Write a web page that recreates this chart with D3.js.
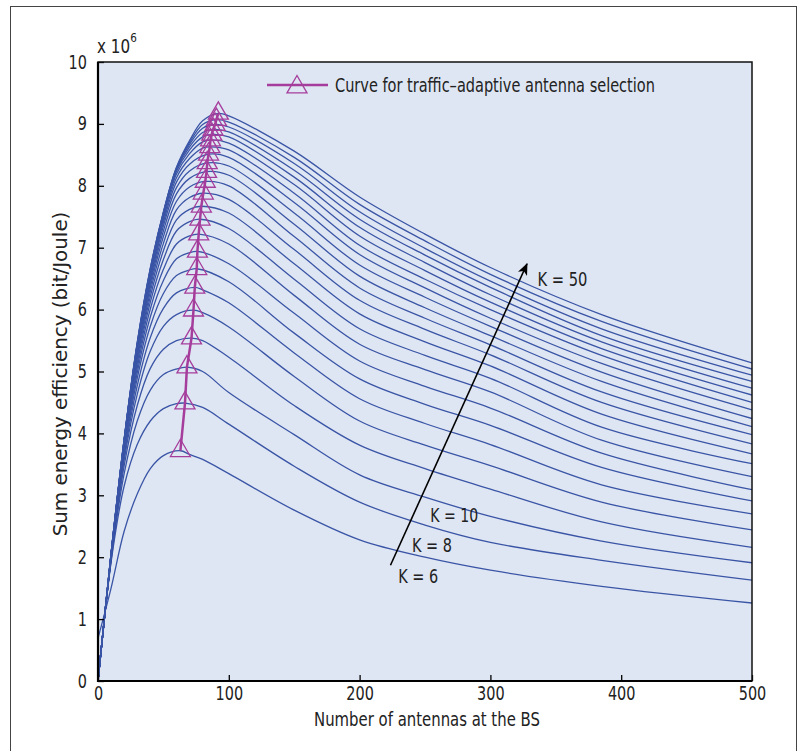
<!DOCTYPE html>
<html>
<head>
<meta charset="utf-8">
<script src="https://cdn.jsdelivr.net/npm/d3@7"></script>
<style>
  html, body { margin: 0; padding: 0; background: #fff; }
  svg { display: block; }
  text { font-family: "DejaVu Sans", sans-serif; fill: #222; }
</style>
</head>
<body>
<div id="chart"></div>
<script>
// number of users K, one curve each
const kValues = [6, 8, 10, 12, 14, 16, 18, 20, 22, 24, 26, 28, 30, 32, 34, 36, 38, 40, 42, 44, 46, 48, 50];

// sum energy efficiency (x 10^6 bit/Joule), one value per K
const ee0 = [0.69, 0, 0, 0, 0, 0, 0, 0, 0, 0, 0, 0, 0, 0, 0, 0, 0, 0, 0, 0, 0, 0, 0];
const ee10 = [1.50, 1.92, 1.95, 1.97, 1.98, 1.99, 2.00, 2.01, 2.02, 2.02, 2.03, 2.03, 2.04, 2.04, 2.04, 2.05, 2.05, 2.05, 2.05, 2.06, 2.06, 2.06, 2.06];
const ee20 = [2.42, 3.15, 3.35, 3.48, 3.57, 3.63, 3.68, 3.72, 3.75, 3.78, 3.80, 3.82, 3.84, 3.85, 3.86, 3.87, 3.88, 3.89, 3.89, 3.90, 3.90, 3.91, 3.91];
const ee30 = [3.02, 3.82, 4.20, 4.45, 4.63, 4.77, 4.89, 4.98, 5.06, 5.13, 5.19, 5.24, 5.28, 5.32, 5.35, 5.38, 5.40, 5.42, 5.43, 5.44, 5.45, 5.46, 5.47];
const ee40 = [3.43, 4.20, 4.70, 5.05, 5.33, 5.55, 5.73, 5.88, 6.01, 6.12, 6.21, 6.29, 6.36, 6.42, 6.47, 6.51, 6.55, 6.58, 6.61, 6.63, 6.65, 6.66, 6.67];
const ee50 = [3.64, 4.40, 4.95, 5.36, 5.73, 6.02, 6.26, 6.47, 6.65, 6.81, 6.95, 7.07, 7.18, 7.27, 7.35, 7.41, 7.46, 7.50, 7.53, 7.55, 7.56, 7.57, 7.58];
const ee60 = [3.71, 4.48, 5.04, 5.50, 5.92, 6.27, 6.55, 6.82, 7.06, 7.27, 7.45, 7.61, 7.75, 7.87, 7.97, 8.06, 8.13, 8.19, 8.23, 8.26, 8.28, 8.29, 8.30];
const ee70 = [3.66, 4.48, 5.06, 5.54, 5.98, 6.35, 6.64, 6.92, 7.19, 7.42, 7.62, 7.81, 7.98, 8.12, 8.24, 8.35, 8.44, 8.52, 8.58, 8.63, 8.67, 8.70, 8.73];
const ee80 = [3.58, 4.42, 5.00, 5.50, 5.95, 6.32, 6.63, 6.91, 7.19, 7.43, 7.64, 7.85, 8.04, 8.20, 8.34, 8.47, 8.61, 8.71, 8.79, 8.86, 8.93, 8.99, 9.05];
const ee100 = [3.35, 4.15, 4.66, 5.23, 5.72, 6.11, 6.45, 6.74, 7.06, 7.31, 7.56, 7.78, 8.00, 8.17, 8.32, 8.46, 8.58, 8.69, 8.79, 8.87, 8.95, 9.03, 9.13];
const ee150 = [2.76, 3.47, 3.98, 4.45, 4.92, 5.30, 5.62, 5.94, 6.23, 6.49, 6.74, 6.97, 7.18, 7.38, 7.56, 7.73, 7.88, 8.02, 8.14, 8.25, 8.36, 8.46, 8.56];
const ee200 = [2.28, 2.89, 3.33, 3.81, 4.20, 4.56, 4.88, 5.17, 5.44, 5.69, 5.93, 6.15, 6.35, 6.54, 6.72, 6.89, 7.04, 7.19, 7.33, 7.46, 7.58, 7.70, 7.82];
const ee250 = [2.00, 2.52, 2.97, 3.43, 3.81, 4.16, 4.47, 4.76, 5.03, 5.26, 5.48, 5.68, 5.86, 6.03, 6.20, 6.35, 6.49, 6.63, 6.76, 6.88, 6.99, 7.11, 7.22];
const ee300 = [1.79, 2.24, 2.66, 3.10, 3.48, 3.82, 4.13, 4.41, 4.67, 4.89, 5.09, 5.27, 5.43, 5.58, 5.73, 5.86, 6.00, 6.12, 6.24, 6.36, 6.46, 6.57, 6.68];
const ee385 = [1.53, 1.95, 2.26, 2.57, 2.89, 3.17, 3.45, 3.68, 3.89, 4.10, 4.31, 4.50, 4.67, 4.84, 4.99, 5.13, 5.26, 5.37, 5.48, 5.58, 5.69, 5.81, 5.92];
const ee500 = [1.26, 1.63, 1.91, 2.16, 2.44, 2.70, 2.91, 3.09, 3.30, 3.51, 3.67, 3.83, 3.98, 4.11, 4.24, 4.38, 4.50, 4.62, 4.73, 4.84, 4.94, 5.04, 5.14];

// antenna counts the columns above belong to
const gridN = [0, 10, 20, 30, 40, 50, 60, 70, 80, 100, 150, 200, 250, 300, 385, 500];
const gridEE = [ee0, ee10, ee20, ee30, ee40, ee50, ee60, ee70, ee80, ee100, ee150, ee200, ee250, ee300, ee385, ee500];

// traffic-adaptive antenna selection = peak of each curve
const peakN = [63, 66.5, 68, 71.5, 73, 74, 75.5, 76, 77, 78, 79, 80.5, 82, 83, 83.5, 84.5, 85.5, 86, 87, 88, 89.5, 90.5, 92];
const peakEE = [3.72, 4.49, 5.07, 5.54, 5.99, 6.36, 6.66, 6.94, 7.22, 7.46, 7.67, 7.88, 8.07, 8.23, 8.37, 8.51, 8.63, 8.74, 8.83, 8.91, 8.99, 9.07, 9.17];

const xTicks = [0, 100, 200, 300, 400, 500];
const yTicks = [0, 1, 2, 3, 4, 5, 6, 7, 8, 9, 10];

// arrow annotation (data coords) and K labels
const arrowFrom = [223.6, 1.87];
const arrowTo = [328, 6.74];
const kLabels = [
  { text: 'K = 50', n: 336, ee: 6.49, w: 50 },
  { text: 'K = 10', n: 254, ee: 2.68, w: 48 },
  { text: 'K = 8', n: 240, ee: 2.19, w: 40 },
  { text: 'K = 6', n: 229.5, ee: 1.69, w: 40 },
];

const W = 800;
const H = 751;
const M = { left: 98, right: 48, top: 62, bottom: 70 };
const COLORS = { curve: '#3a55a6', select: '#a53d9c', bg: '#dfe6f3' };
const CONDENSE = 0.76;

const svg = d3.select('#chart').append('svg')
  .attr('width', W)
  .attr('height', H);

// squeeze a text horizontally around its own anchor (condensed type look)
function squeeze(sel, sx) {
  sel.each(function () {
    const t = d3.select(this);
    const tx = +t.attr('x') || 0;
    const ty = +t.attr('y') || 0;
    t.attr('transform', `translate(${tx},${ty}) scale(${sx},1) translate(${-tx},${-ty})`);
  });
}

// squeeze so the text spans the given width
function fitWidth(sel, width) {
  const len = sel.node().getComputedTextLength();
  squeeze(sel, width / len);
}

// outer figure frame
svg.append('rect')
  .attr('x', 10.5).attr('y', 6.5)
  .attr('width', 786).attr('height', 760)
  .attr('fill', 'none')
  .attr('stroke', '#444')
  .attr('stroke-width', 1);

const x = d3.scaleLinear().domain([0, 500]).range([M.left, W - M.right]);
const y = d3.scaleLinear().domain([0, 10]).range([H - M.bottom, M.top]);

svg.append('rect')
  .attr('x', x(0)).attr('y', y(10))
  .attr('width', x(500) - x(0)).attr('height', y(0) - y(10))
  .attr('fill', COLORS.bg);

svg.append('clipPath').attr('id', 'clip')
  .append('rect')
  .attr('x', x(0)).attr('y', y(10))
  .attr('width', x(500) - x(0)).attr('height', y(0) - y(10));

// build each curve from the grid columns plus its peak
const curves = kValues.map((k, i) => {
  const pts = [];
  gridN.forEach((n, j) => {
    if (n < peakN[i] - 5 || n > peakN[i] + 5) pts.push([n, gridEE[j][i]]);
  });
  pts.push([peakN[i], peakEE[i]]);
  pts.sort((a, b) => a[0] - b[0]);
  return pts;
});

const line = d3.line()
  .x((d) => x(d[0]))
  .y((d) => y(d[1]))
  .curve(d3.curveCatmullRom.alpha(0.5));

const plot = svg.append('g').attr('clip-path', 'url(#clip)');

plot.selectAll('path.curve')
  .data(curves)
  .enter()
  .append('path')
  .attr('class', 'curve')
  .attr('d', line)
  .attr('fill', 'none')
  .attr('stroke', COLORS.curve)
  .attr('stroke-width', 1.3);

// selection curve through the peaks
const peaks = peakN.map((n, i) => [n, peakEE[i]]);
plot.append('path')
  .datum(peaks)
  .attr('d', d3.line().x((d) => x(d[0])).y((d) => y(d[1])))
  .attr('fill', 'none')
  .attr('stroke', COLORS.select)
  .attr('stroke-width', 2.5);

const tri = 'M0,-11.5L10,5.8L-10,5.8Z';
svg.append('g').selectAll('path')
  .data(peaks)
  .enter()
  .append('path')
  .attr('d', tri)
  .attr('transform', (d) => `translate(${x(d[0])},${y(d[1])})`)
  .attr('fill', 'none')
  .attr('stroke', COLORS.select)
  .attr('stroke-width', 1.3);

// arrow
svg.append('defs').append('marker')
  .attr('id', 'head')
  .attr('viewBox', '0 0 12 10')
  .attr('refX', 11).attr('refY', 5)
  .attr('markerWidth', 12).attr('markerHeight', 10)
  .attr('markerUnits', 'userSpaceOnUse')
  .attr('orient', 'auto')
  .append('path')
  .attr('d', 'M0,0L12,5L0,10L3,5Z')
  .attr('fill', '#000');

svg.append('line')
  .attr('x1', x(arrowFrom[0])).attr('y1', y(arrowFrom[1]))
  .attr('x2', x(arrowTo[0])).attr('y2', y(arrowTo[1]))
  .attr('stroke', '#000')
  .attr('stroke-width', 1.6)
  .attr('marker-end', 'url(#head)');

svg.append('g').selectAll('text')
  .data(kLabels)
  .enter()
  .append('text')
  .attr('x', (d) => x(d.n))
  .attr('y', (d) => y(d.ee))
  .attr('dy', '0.36em')
  .style('font-size', '19px')
  .text((d) => d.text)
  .each(function (d) { fitWidth(d3.select(this), d.w); });

// axes, ticks pointing inwards
const xAxis = svg.append('g')
  .attr('transform', `translate(0,${y(0)})`)
  .call(d3.axisBottom(x).tickValues(xTicks).tickSize(-6).tickPadding(6));
const yAxis = svg.append('g')
  .attr('transform', `translate(${x(0)},0)`)
  .call(d3.axisLeft(y).tickValues(yTicks).tickSize(-6).tickPadding(11));

[xAxis, yAxis].forEach((a) => {
  a.select('.domain').remove();
  a.selectAll('.tick line').attr('stroke', '#000').attr('stroke-width', 1.3);
  a.selectAll('.tick text')
    .style('font-size', '19px')
    .style('font-family', '"DejaVu Sans", sans-serif')
    .attr('fill', '#222')
    .call(squeeze, CONDENSE);
});

// box around the plot
svg.append('rect')
  .attr('x', x(0)).attr('y', y(10))
  .attr('width', x(500) - x(0)).attr('height', y(0) - y(10))
  .attr('fill', 'none')
  .attr('stroke', '#111')
  .attr('stroke-width', 1.5);
svg.append('path')
  .attr('d', `M${x(0)},${y(10)}V${y(0)}H${x(500)}`)
  .attr('fill', 'none')
  .attr('stroke', '#000')
  .attr('stroke-width', 2.2);

const xLabel = svg.append('text')
  .attr('x', 427).attr('y', 726)
  .attr('text-anchor', 'middle')
  .style('font-size', '20px')
  .text('Number of antennas at the BS');
fitWidth(xLabel, 226);

const yLabel = svg.append('text')
  .attr('x', 0).attr('y', 0)
  .attr('text-anchor', 'middle')
  .style('font-size', '19px')
  .text('Sum energy efficiency (bit/Joule)');
const yLen = yLabel.node().getComputedTextLength();
yLabel.attr('transform', `translate(67,374) rotate(-90) scale(${325 / yLen},1)`);

const expo = svg.append('text')
  .attr('x', 97).attr('y', 53)
  .style('font-size', '19px');
expo.append('tspan').text('x 10');
expo.append('tspan').attr('dy', -11).style('font-size', '13px').text('6');
squeeze(expo, 0.8);

// legend
const lg = svg.append('g').attr('transform', 'translate(0,85)');
lg.append('line')
  .attr('x1', 267).attr('x2', 328)
  .attr('stroke', COLORS.select)
  .attr('stroke-width', 2.5);
lg.append('path')
  .attr('d', tri)
  .attr('transform', 'translate(297,2)')
  .attr('fill', 'none')
  .attr('stroke', COLORS.select)
  .attr('stroke-width', 1.3);
const lgText = lg.append('text')
  .attr('x', 335).attr('y', 0).attr('dy', '0.36em')
  .style('font-size', '19px')
  .text('Curve for traffic\u2013adaptive antenna selection');
fitWidth(lgText, 320);
</script>
</body>
</html>
